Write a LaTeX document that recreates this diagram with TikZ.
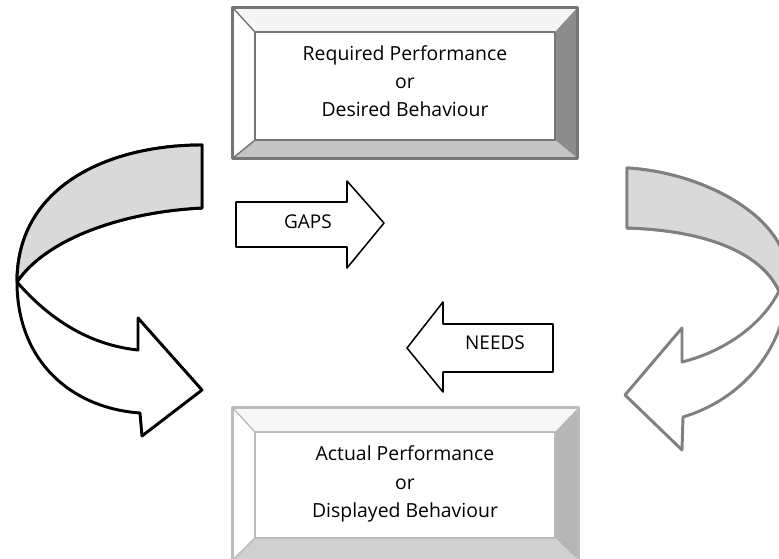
\documentclass[tikz,border=0pt]{standalone}
\usepackage{fontspec}
\setmainfont{Open Sans}
\usetikzlibrary{calc}
\definecolor{darkframe}{RGB}{118,118,118}
\definecolor{darkside}{RGB}{140,140,140}
\definecolor{darkfoot}{RGB}{196,196,196}
\definecolor{paleframe}{RGB}{188,188,188}
\definecolor{paleside}{RGB}{182,182,182}
\definecolor{palefoot}{RGB}{208,208,208}
\definecolor{bandgrey}{RGB}{217,217,217}
\definecolor{curvegrey}{RGB}{128,128,128}

\begin{document}
\begin{tikzpicture}[x=0.025cm, y=-0.025cm, line join=round]
  \tikzset{
    panel/.style={minimum width=7.5cm, minimum height=2.7cm, inner sep=0pt},
    paneltext/.style={align=center, inner sep=0pt, font=\fontsize{13.8}{20}\selectfont},
    tag/.style={inner sep=0pt, font=\fontsize{13.5}{15}\selectfont},
    flatarrow/.style={draw=black, line width=1.1pt, fill=white},
    curvearrow/.style={line width=2.1pt, fill=white}
  }
  \useasboundingbox (0,0) rectangle (779,559);

  % top panel
  \node[panel, minimum height=2.7cm] (req) at (405,86) {};
  \coordinate (rnw) at ($(req.north west)+(-22,-24)$);
  \coordinate (rne) at ($(req.north east)+(22,-24)$);
  \coordinate (rse) at ($(req.south east)+(22,18)$);
  \coordinate (rsw) at ($(req.south west)+(-22,18)$);
  \fill[gray!8] (rnw) -- (rne) -- (req.north east) -- (req.north west) -- cycle;
  \fill[white] (rnw) -- (req.north west) -- (req.south west) -- (rsw) -- cycle;
  \fill[darkside] (rne) -- (rse) -- (req.south east) -- (req.north east) -- cycle;
  \fill[darkfoot] (rsw) -- (req.south west) -- (req.south east) -- (rse) -- cycle;
  \draw[darkframe, line width=2pt] (rnw) rectangle (rse);
  \draw[darkframe, line width=1.6pt] (req.north west) rectangle (req.south east);
  \draw[darkframe, line width=1pt] (rnw) -- (req.north west) (rsw) -- (req.south west);
  \node[paneltext] (reqtext) at ($(req)+(0,-5)$) {Required Performance\\or\\Desired Behaviour};

  % bottom panel
  \node[panel, minimum height=2.65cm] (act) at (405,485) {};
  \coordinate (anw) at ($(act.north west)+(-22,-24)$);
  \coordinate (ane) at ($(act.north east)+(23,-24)$);
  \coordinate (ase) at ($(act.south east)+(23,22)$);
  \coordinate (asw) at ($(act.south west)+(-22,22)$);
  \fill[gray!6] (anw) -- (ane) -- (act.north east) -- (act.north west) -- cycle;
  \fill[white] (anw) -- (act.north west) -- (act.south west) -- (asw) -- cycle;
  \fill[paleside] (ane) -- (ase) -- (act.south east) -- (act.north east) -- cycle;
  \fill[palefoot] (asw) -- (act.south west) -- (act.south east) -- (ase) -- cycle;
  \draw[paleframe, line width=2pt] (anw) rectangle (ase);
  \draw[paleframe, line width=1.4pt] (act.north west) rectangle (act.south east);
  \draw[paleframe, line width=1pt] (anw) -- (act.north west) (asw) -- (act.south west);
  \node[paneltext] (acttext) at ($(act)+(0,-1)$) {Actual Performance\\or\\Displayed Behaviour};

  % straight arrows
  \draw[flatarrow] (236,202) -- (347,202) -- (347,181) -- (384,223) -- (347,268) -- (347,247) -- (236,247) -- cycle;
  \node[tag] (gaps) at (308,222) {GAPS};
  \draw[flatarrow] (553,324) -- (443,324) -- (443,302) -- (407,348) -- (443,392) -- (443,372) -- (553,372) -- cycle;
  \node[tag] (needs) at (495,343) {NEEDS};

  % left curved arrow
  \draw[curvearrow, draw=black] (202,145) .. controls (110,145) and (17,185) .. (17,282)
    .. controls (17,360) and (70,408) .. (140,413) -- (142,436) -- (202,390) -- (138,318) -- (138,350)
    .. controls (90,345) and (50,320) .. (17,282) .. controls (45,240) and (120,212) .. (202,208) -- cycle;
  \fill[bandgrey] (202,145) .. controls (110,145) and (17,185) .. (17,282)
    .. controls (45,240) and (120,212) .. (202,208) -- cycle;
  \draw[line width=2.1pt] (202,145) .. controls (110,145) and (17,185) .. (17,282)
    .. controls (45,240) and (120,212) .. (202,208) -- cycle;

  % right curved arrow
  \draw[curvearrow, draw=curvegrey] (627,168) .. controls (700,172) and (788,215) .. (788,278)
    .. controls (788,350) and (740,400) .. (683,417) -- (682,450) -- (625,395) -- (682,328) -- (682,362)
    .. controls (730,350) and (765,320) .. (779,291) .. controls (760,250) and (700,230) .. (627,228) -- cycle;
  \filldraw[fill=bandgrey, draw=curvegrey, line width=2.1pt] (627,168) .. controls (700,172) and (788,215) .. (788,278)
    -- (779,291) .. controls (760,250) and (700,230) .. (627,228) -- cycle;
\end{tikzpicture}
\end{document}
